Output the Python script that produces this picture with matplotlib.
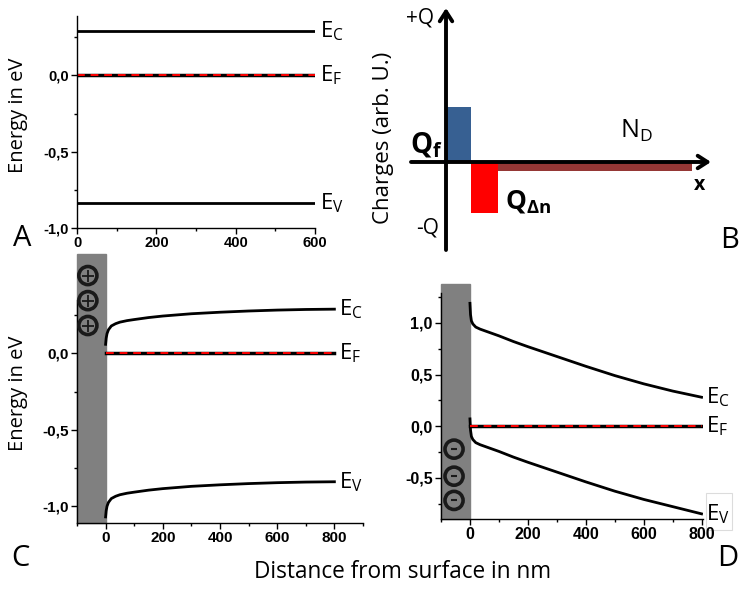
import matplotlib.pyplot as plt
from matplotlib.patches import Rectangle

plt.rcParams['font.family'] = ['Open Sans', 'DejaVu Sans']
plt.rcParams['mathtext.fontset'] = 'custom'
plt.rcParams['mathtext.rm'] = 'Open Sans'
plt.rcParams['mathtext.bf'] = 'Open Sans:bold'
plt.rcParams['axes.unicode_minus'] = False

# panel A: flat bands
a_x = [0, 600]
a_ec = [0.29, 0.29]
a_ef = [0.0, 0.0]
a_ev = [-0.835, -0.835]

# panel B: charge distribution (arb. units)
qf_x, qf_w, qf_h = 0.0, 1.0, 1.0
qdn_x, qdn_w, qdn_h = 1.0, 1.08, -0.93
nd_x, nd_w, nd_h = 2.08, 7.76, -0.16

# panel C: band bending with positive surface charge
c_x = [0, 2, 5, 10, 20, 35, 50, 75, 100, 150, 200, 300, 400, 500, 600, 700, 800]
c_ec = [0.06, 0.10, 0.13, 0.155, 0.18, 0.195, 0.205, 0.215, 0.222, 0.235, 0.245, 0.26, 0.27, 0.278, 0.284, 0.288, 0.29]
c_ev = [-1.07, -1.03, -1.0, -0.975, -0.95, -0.935, -0.925, -0.915, -0.908, -0.895, -0.885, -0.87, -0.86, -0.852, -0.846, -0.842, -0.84]

# panel D: band bending with negative surface charge
d_x = [0, 2, 5, 10, 20, 35, 50, 75, 100, 150, 200, 300, 400, 500, 600, 700, 800]
d_ec = [1.19, 1.08, 1.02, 0.99, 0.96, 0.94, 0.925, 0.9, 0.875, 0.82, 0.77, 0.675, 0.58, 0.49, 0.41, 0.34, 0.28]
d_ev = [0.07, -0.04, -0.1, -0.13, -0.16, -0.18, -0.195, -0.22, -0.245, -0.3, -0.35, -0.445, -0.54, -0.63, -0.71, -0.78, -0.85]

W, H = 739, 589
fig = plt.figure(figsize=(W / 100, H / 100), dpi=100)


def box(l, t, r, b):
    return [l / W, 1 - b / H, (r - l) / W, (b - t) / H]


def style_axes(ax, size):
    for s in ['top', 'right']:
        ax.spines[s].set_visible(False)
    for s in ['left', 'bottom']:
        ax.spines[s].set_linewidth(1.0)
    ax.tick_params(direction='out', length=4, width=1, labelsize=size, pad=2,
                   labelfontfamily='Liberation Sans')
    ax.tick_params(which='minor', direction='out', length=2.5, width=1)


def fmt(v, pos=None):
    return f"{v:.1f}".replace('.', ',')


def bands(ax, x, ec, ev, xe):
    ax.plot(x, ec, color='black', lw=2)
    ax.plot(x, ev, color='black', lw=2)
    ax.plot([0, xe], [0, 0], color='black', lw=2.5)
    ax.plot([0, xe], [0, 0], color='red', lw=1.4, dashes=(4, 3))
    dx = xe * 0.021
    lab = dict(fontsize=16, va='center', ha='left', clip_on=False, zorder=5)
    ax.text(xe + dx, ec[-1], r'E$_\mathregular{C}$', **lab)
    ax.text(xe + dx, 0, r'E$_\mathregular{F}$', **lab)
    ax.text(xe + dx, ev[-1], r'E$_\mathregular{V}$', **lab)


# A
axA = fig.add_axes(box(77, 16, 315, 228))
bands(axA, a_x, a_ec, a_ev, 600)
axA.set_xlim(0, 600)
axA.set_ylim(-1.0, 0.39)
axA.set_xticks([0, 200, 400, 600])
axA.set_xticks([100, 300, 500], minor=True)
axA.set_yticks([-1.0, -0.5, 0.0])
axA.set_yticks([-0.75, -0.25, 0.25], minor=True)
axA.yaxis.set_major_formatter(fmt)
axA.set_ylabel('Energy in eV', fontsize=14.5)
axA.yaxis.set_label_coords(-0.205, 0.53)
style_axes(axA, 10.5)

# B
axB = fig.add_axes(box(370, 0, 739, 250))
axB.set_xlim(-3.04, 11.72)
axB.set_ylim(-1.6, 2.945)
axB.axis('off')
axB.bar(qf_x, qf_h, width=qf_w, align='edge', color='#376092', zorder=2)
axB.bar(qdn_x, qdn_h, width=qdn_w, align='edge', color='#ff0000', zorder=2)
axB.bar(nd_x, nd_h, width=nd_w, align='edge', color='#953735', zorder=2)
arrow = dict(arrowstyle='->,head_length=0.7,head_width=0.45', lw=2.8, color='black',
             shrinkA=0, shrinkB=0)
axB.annotate('', xy=(0, 2.8), xytext=(0, -1.6), arrowprops=arrow, zorder=3)
axB.annotate('', xy=(10.6, 0), xytext=(-1.4, 0), arrowprops=arrow, zorder=3)
axB.text(-0.5, 2.62, '+Q', fontsize=15, ha='right', va='center')
axB.text(-0.3, -1.2, '-Q', fontsize=15, ha='right', va='center')
axB.text(-2.5, 0.43, 'Charges (arb. U.)', fontsize=16, rotation=90, ha='center', va='center')
axB.text(-0.12, 0.3, r'$\mathbf{Q}_\mathbf{f}$', fontsize=20, ha='right', va='center')
axB.text(2.35, -0.72, r'$\mathbf{Q}_\mathbf{\Delta n}$', fontsize=19, ha='left', va='center')
axB.text(6.95, 0.56, r'N$_\mathregular{D}$', fontsize=18, ha='left', va='center')
axB.text(9.9, -0.42, 'x', fontsize=14, fontweight='bold', ha='left', va='center')

# C
axC = fig.add_axes(box(77, 300, 363, 523))
axC.add_patch(Rectangle((-100, -1.11), 100, 1.76, color='#808080', clip_on=False, zorder=0))
bands(axC, c_x, c_ec, c_ev, 800)
axC.set_xlim(-100, 900)
axC.set_ylim(-1.11, 0.35)
axC.set_xticks([0, 200, 400, 600, 800])
axC.set_xticks([-100, 100, 300, 500, 700, 900], minor=True)
axC.set_yticks([-1.0, -0.5, 0.0])
axC.set_yticks([-0.75, -0.25, 0.25], minor=True)
axC.yaxis.set_major_formatter(fmt)
axC.set_ylabel('Energy in eV', fontsize=14.5)
axC.yaxis.set_label_coords(-0.17, 0.58)
style_axes(axC, 11)
c_q = [0.51, 0.346, 0.183]
axC.scatter([-62] * 3, c_q, s=170, facecolor='none', edgecolor='#1a1a1a', lw=2.6, clip_on=False, zorder=4)
axC.scatter([-62] * 3, c_q, s=75, marker='+', color='#1a1a1a', lw=1.3, clip_on=False, zorder=4)

# D
axD = fig.add_axes(box(441, 293, 703, 519))
axD.add_patch(Rectangle((-100, -0.9), 100, 2.28, color='#808080', clip_on=False, zorder=0))
bands(axD, d_x, d_ec, d_ev, 800)
axD.set_xlim(-100, 805)
axD.set_ylim(-0.9, 1.29)
axD.set_xticks([0, 200, 400, 600, 800])
axD.set_xticks([-100, 100, 300, 500, 700], minor=True)
axD.set_yticks([-0.5, 0.0, 0.5, 1.0])
axD.set_yticks([-0.75, -0.25, 0.25, 0.75, 1.25], minor=True)
axD.yaxis.set_major_formatter(fmt)
style_axes(axD, 11.5)
d_q = [-0.223, -0.485, -0.72]
axD.scatter([-55] * 3, d_q, s=170, facecolor='none', edgecolor='#1a1a1a', lw=2.6, clip_on=False, zorder=4)
axD.scatter([-55] * 3, d_q, s=25, marker='_', color='#1a1a1a', lw=1.5, clip_on=False, zorder=4)

# faint box behind the E_V label of panel D
fig.patches.append(Rectangle((706 / W, 1 - 530 / H), 26 / W, 37 / H, transform=fig.transFigure,
                             facecolor='white', edgecolor='#dcdcdc', lw=0.8, zorder=-1))

fig.text(403 / W, 1 - 572 / H, 'Distance from surface in nm', fontsize=16.3, ha='center', va='center')
for s, x, y in [('A', 22, 238), ('B', 730, 240), ('C', 20, 558), ('D', 728, 558)]:
    fig.text(x / W, 1 - y / H, s, fontsize=21, ha='center', va='center')

# bold tick labels
fig.canvas.draw()
for ax in [axA, axC, axD]:
    for lab in ax.get_xticklabels() + ax.get_yticklabels():
        lab.set_fontweight('bold')

fig.savefig('out.png', dpi=100)
